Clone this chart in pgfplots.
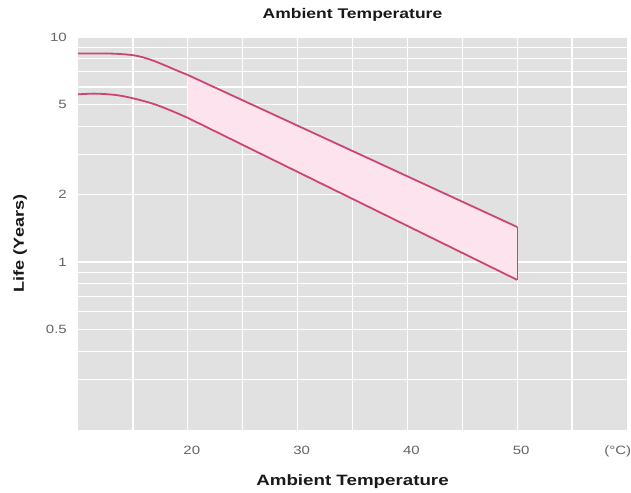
\documentclass[border=0pt]{standalone}
\usepackage{fontspec}
\setmainfont{Liberation Sans}[FakeStretch=1.25]
\usepackage{pgfplots}
\pgfplotsset{compat=1.18}
\definecolor{bgc}{RGB}{226,225,225}
\definecolor{linec}{RGB}{203,70,112}
\definecolor{fillc}{RGB}{252,227,237}
\definecolor{tickc}{RGB}{100,100,100}
\definecolor{labc}{RGB}{25,25,25}
\begin{document}
\begin{tikzpicture}
\useasboundingbox (-78bp,-63bp) rectangle (553bp,430bp);
\begin{axis}[
  at={(0,0)}, anchor=south west,
  scale only axis, width=549bp, height=393bp,
  xmin=10, xmax=60, ymode=log, ymin=0.179, ymax=10,
  axis background/.style={fill=bgc},
  axis line style={draw=none},
  major tick length=0pt, minor tick length=0pt,
  xtick={20,30,40,50}, xticklabels={20,30,40,50},
  minor xtick={15,25,35,45,55},
  extra x ticks={58.8}, extra x tick labels={(°C)},
  extra x tick style={grid=none},
  ytick={0.5,1,2,5,10}, yticklabels={0.5,1,2,5,10},
  minor ytick={0.3,0.4,0.6,0.7,0.8,0.9,3,4,6,7,8,9},
  grid=both,
  major grid style={white, line width=1.3bp},
  minor grid style={white, line width=1.3bp},
  xticklabel style={font=\fontsize{12bp}{14bp}\selectfont, text=tickc, anchor=base, yshift=-24bp, xshift=4bp},
  yticklabel style={font=\fontsize{12bp}{14bp}\selectfont, text=tickc, anchor=east, inner sep=0pt, xshift=-11bp},
  title={Ambient Temperature},
  title style={at={(axis description cs:0.5,1.0331)}, anchor=base, font=\bfseries\fontsize{14bp}{16bp}\selectfont, text=labc},
  xlabel={Ambient Temperature},
  xlabel style={at={(axis description cs:0.5,-0.13995)}, anchor=base, font=\bfseries\fontsize{15bp}{17bp}\selectfont, text=labc},
  ylabel={Life (Years)},
  ylabel style={at={(axis description cs:-0.1056,0.4746)}, anchor=center, font=\bfseries\fontsize{14.5bp}{17bp}\selectfont, text=labc},
]
\addplot[fill=fillc, draw=none] coordinates {(20,6.78) (50,1.43) (50,0.832) (20,4.37)} -- cycle;
% upper curve: rounded knee, then straight
\addplot[linec, line width=1.8bp, smooth, tension=0.6] coordinates {
  (10,8.45) (12,8.45) (13.5,8.42) (15,8.30) (16,8.10) (17,7.80) (18,7.45) (19,7.10) (20,6.78)};
\addplot[linec, line width=1.8bp] coordinates {(20,6.78) (50,1.43)};
% lower curve
\addplot[linec, line width=1.8bp, smooth, tension=0.6] coordinates {
  (10,5.56) (11.5,5.60) (13,5.55) (14,5.47) (15,5.34) (16,5.19) (17,5.02) (18,4.81) (19,4.59) (20,4.37)};
\addplot[linec, line width=1.8bp] coordinates {(20,4.37) (50,0.832)};
\addplot[linec, line width=1.4bp] coordinates {(50,1.43) (50,0.832)};
\end{axis}
\end{tikzpicture}
\end{document}
